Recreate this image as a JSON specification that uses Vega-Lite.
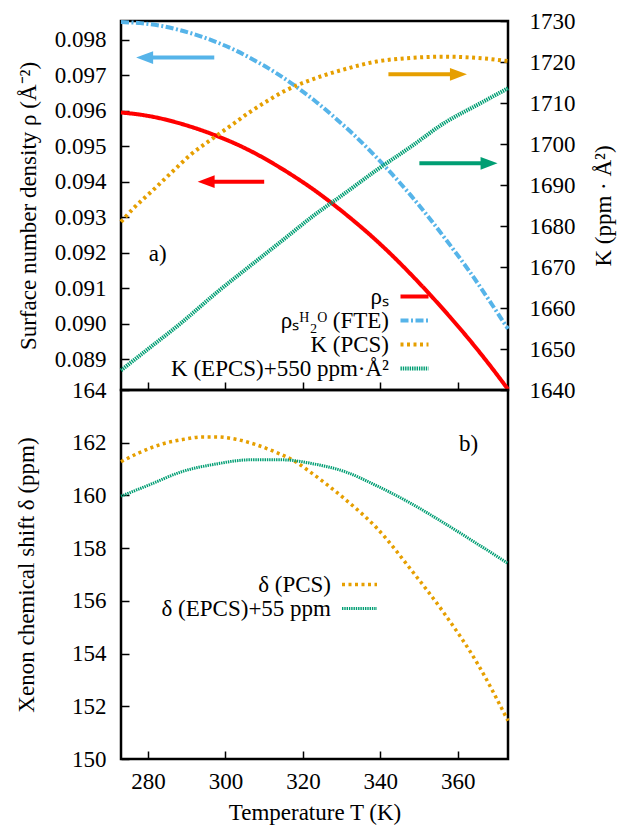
{
  "$schema": "https://vega.github.io/schema/vega-lite/v6.json",
  "padding": {"left": 13, "top": 8, "right": 0, "bottom": 0},
  "background": "white",
  "config": {
    "font": "Liberation Serif",
    "view": {"stroke": "black", "strokeWidth": 2.5},
    "style": {
      "guide-label": {"font": "Liberation Serif", "fontSize": 23, "fill": "black"},
      "guide-title": {"font": "Liberation Serif", "fontSize": 23, "fill": "black", "fontWeight": "normal"}
    },
    "text": {"font": "Liberation Serif"},
    "axis": {
      "grid": false, "domain": false, "tickColor": "black", "tickWidth": 1.5, "tickSize": -8,
      "labelFont": "Liberation Serif", "labelFontSize": 23, "labelColor": "black",
      "titleFont": "Liberation Serif", "titleFontSize": 23, "titleFontWeight": "normal", "titleColor": "black"
    },
    "legend": {
      "orient": "none", "labelFont": "Liberation Serif", "labelFontSize": 23,
      "labelColor": "black", "labelAlign": "right", "labelLimit": 400, "rowPadding": 0
    }
  },
  "datasets": {
    "tl": [
      {"s": "ρₛ", "T": 273, "v": 0.09595}, {"s": "ρₛ", "T": 278, "v": 0.09589}, {"s": "ρₛ", "T": 283, "v": 0.09579},
      {"s": "ρₛ", "T": 288, "v": 0.09565}, {"s": "ρₛ", "T": 293, "v": 0.09548}, {"s": "ρₛ", "T": 298, "v": 0.09528},
      {"s": "ρₛ", "T": 303, "v": 0.09505}, {"s": "ρₛ", "T": 308, "v": 0.09478}, {"s": "ρₛ", "T": 313, "v": 0.09447},
      {"s": "ρₛ", "T": 318, "v": 0.09413}, {"s": "ρₛ", "T": 323, "v": 0.09376}, {"s": "ρₛ", "T": 328, "v": 0.09335},
      {"s": "ρₛ", "T": 333, "v": 0.09291}, {"s": "ρₛ", "T": 338, "v": 0.09244}, {"s": "ρₛ", "T": 343, "v": 0.09193},
      {"s": "ρₛ", "T": 348, "v": 0.09138}, {"s": "ρₛ", "T": 353, "v": 0.09080}, {"s": "ρₛ", "T": 358, "v": 0.09019},
      {"s": "ρₛ", "T": 363, "v": 0.08955}, {"s": "ρₛ", "T": 368, "v": 0.08887}, {"s": "ρₛ", "T": 373, "v": 0.08815},
      {"s": "ρₛᴴ₂ᴼ (FTE)", "T": 273, "v": 0.09850}, {"s": "ρₛᴴ₂ᴼ (FTE)", "T": 278, "v": 0.09847}, {"s": "ρₛᴴ₂ᴼ (FTE)", "T": 283, "v": 0.09840},
      {"s": "ρₛᴴ₂ᴼ (FTE)", "T": 288, "v": 0.09828}, {"s": "ρₛᴴ₂ᴼ (FTE)", "T": 293, "v": 0.09812}, {"s": "ρₛᴴ₂ᴼ (FTE)", "T": 298, "v": 0.09792},
      {"s": "ρₛᴴ₂ᴼ (FTE)", "T": 303, "v": 0.09768}, {"s": "ρₛᴴ₂ᴼ (FTE)", "T": 308, "v": 0.09739}, {"s": "ρₛᴴ₂ᴼ (FTE)", "T": 313, "v": 0.09707},
      {"s": "ρₛᴴ₂ᴼ (FTE)", "T": 318, "v": 0.09670}, {"s": "ρₛᴴ₂ᴼ (FTE)", "T": 323, "v": 0.09629}, {"s": "ρₛᴴ₂ᴼ (FTE)", "T": 328, "v": 0.09583},
      {"s": "ρₛᴴ₂ᴼ (FTE)", "T": 333, "v": 0.09534}, {"s": "ρₛᴴ₂ᴼ (FTE)", "T": 338, "v": 0.09480}, {"s": "ρₛᴴ₂ᴼ (FTE)", "T": 343, "v": 0.09422},
      {"s": "ρₛᴴ₂ᴼ (FTE)", "T": 348, "v": 0.09360}, {"s": "ρₛᴴ₂ᴼ (FTE)", "T": 353, "v": 0.09293}, {"s": "ρₛᴴ₂ᴼ (FTE)", "T": 358, "v": 0.09222},
      {"s": "ρₛᴴ₂ᴼ (FTE)", "T": 363, "v": 0.09148}, {"s": "ρₛᴴ₂ᴼ (FTE)", "T": 368, "v": 0.09068}, {"s": "ρₛᴴ₂ᴼ (FTE)", "T": 373, "v": 0.08985}
    ],
    "tr": [
      {"s": "K (PCS)", "T": 273, "v": 1681.0}, {"s": "K (PCS)", "T": 276, "v": 1684.1}, {"s": "K (PCS)", "T": 281, "v": 1688.5},
      {"s": "K (PCS)", "T": 286, "v": 1693.0}, {"s": "K (PCS)", "T": 291, "v": 1697.4}, {"s": "K (PCS)", "T": 296.6, "v": 1701.3},
      {"s": "K (PCS)", "T": 302, "v": 1704.9}, {"s": "K (PCS)", "T": 306, "v": 1707.6}, {"s": "K (PCS)", "T": 311, "v": 1710.6},
      {"s": "K (PCS)", "T": 315, "v": 1712.8}, {"s": "K (PCS)", "T": 320, "v": 1714.9}, {"s": "K (PCS)", "T": 325, "v": 1716.6},
      {"s": "K (PCS)", "T": 331, "v": 1718.3}, {"s": "K (PCS)", "T": 339, "v": 1720.1}, {"s": "K (PCS)", "T": 348, "v": 1721.0},
      {"s": "K (PCS)", "T": 356, "v": 1721.3}, {"s": "K (PCS)", "T": 365, "v": 1721.0}, {"s": "K (PCS)", "T": 373, "v": 1720.2},
      {"s": "K (EPCS)+550 ppm·Å²", "T": 273, "v": 1644.8}, {"s": "K (EPCS)+550 ppm·Å²", "T": 280, "v": 1650.0},
      {"s": "K (EPCS)+550 ppm·Å²", "T": 289, "v": 1656.7}, {"s": "K (EPCS)+550 ppm·Å²", "T": 297.5, "v": 1663.6},
      {"s": "K (EPCS)+550 ppm·Å²", "T": 306, "v": 1670.0}, {"s": "K (EPCS)+550 ppm·Å²", "T": 315, "v": 1676.7},
      {"s": "K (EPCS)+550 ppm·Å²", "T": 323, "v": 1682.7}, {"s": "K (EPCS)+550 ppm·Å²", "T": 330, "v": 1687.4},
      {"s": "K (EPCS)+550 ppm·Å²", "T": 339, "v": 1693.6}, {"s": "K (EPCS)+550 ppm·Å²", "T": 348, "v": 1699.4},
      {"s": "K (EPCS)+550 ppm·Å²", "T": 356.5, "v": 1705.1}, {"s": "K (EPCS)+550 ppm·Å²", "T": 365, "v": 1709.5},
      {"s": "K (EPCS)+550 ppm·Å²", "T": 373, "v": 1713.6}
    ],
    "arrL": [
      {"s": "ρₛᴴ₂ᴼ (FTE)", "x1": 297.1, "x2": 279.1, "hx": 279.1, "y": 0.0975, "dir": "left"},
      {"s": "ρₛ", "x1": 310.0, "x2": 295.0, "hx": 295.0, "y": 0.0940, "dir": "left"}
    ],
    "arrR": [
      {"s": "K (PCS)", "x1": 342.1, "x2": 360.2, "hx": 360.2, "y": 1717.0, "dir": "right"},
      {"s": "K (EPCS)+550 ppm·Å²", "x1": 350.1, "x2": 368.1, "hx": 368.1, "y": 1695.3, "dir": "right"}
    ],
    "lblA": [{"T": 282.5, "v": 0.09196, "text": "a)"}],
    "lblB": [{"T": 362.8, "v": 161.94, "text": "b)"}],
    "bt": [
      {"s": "δ (PCS)", "T": 273, "v": 161.28}, {"s": "δ (PCS)", "T": 277.7, "v": 161.62}, {"s": "δ (PCS)", "T": 283.8, "v": 161.96},
      {"s": "δ (PCS)", "T": 288.9, "v": 162.12}, {"s": "δ (PCS)", "T": 294, "v": 162.22}, {"s": "δ (PCS)", "T": 297.5, "v": 162.22},
      {"s": "δ (PCS)", "T": 302.7, "v": 162.13}, {"s": "δ (PCS)", "T": 307.8, "v": 161.93}, {"s": "δ (PCS)", "T": 313, "v": 161.64},
      {"s": "δ (PCS)", "T": 318.2, "v": 161.27}, {"s": "δ (PCS)", "T": 321.7, "v": 160.91}, {"s": "δ (PCS)", "T": 330.7, "v": 159.88},
      {"s": "δ (PCS)", "T": 339.3, "v": 158.73}, {"s": "δ (PCS)", "T": 347.9, "v": 157.19}, {"s": "δ (PCS)", "T": 356.5, "v": 155.53},
      {"s": "δ (PCS)", "T": 365.2, "v": 153.60}, {"s": "δ (PCS)", "T": 373, "v": 151.45},
      {"s": "δ (EPCS)+55 ppm", "T": 273, "v": 159.97}, {"s": "δ (EPCS)+55 ppm", "T": 280.3, "v": 160.40},
      {"s": "δ (EPCS)+55 ppm", "T": 288.9, "v": 160.91}, {"s": "δ (EPCS)+55 ppm", "T": 297.5, "v": 161.19},
      {"s": "δ (EPCS)+55 ppm", "T": 306.2, "v": 161.35}, {"s": "δ (EPCS)+55 ppm", "T": 314.8, "v": 161.35},
      {"s": "δ (EPCS)+55 ppm", "T": 323, "v": 161.19}, {"s": "δ (EPCS)+55 ppm", "T": 330.7, "v": 160.91},
      {"s": "δ (EPCS)+55 ppm", "T": 339.3, "v": 160.35}, {"s": "δ (EPCS)+55 ppm", "T": 347.9, "v": 159.70},
      {"s": "δ (EPCS)+55 ppm", "T": 356.5, "v": 158.95}, {"s": "δ (EPCS)+55 ppm", "T": 365.2, "v": 158.15},
      {"s": "δ (EPCS)+55 ppm", "T": 373, "v": 157.42}
    ]
  },
  "spacing": 0,
  "bounds": "flush",
  "vconcat": [
    {
      "width": 387,
      "height": 369,
      "layer": [
        {
          "layer": [
            {
              "data": {"name": "tl"},
              "mark": {"type": "line", "interpolate": "monotone"},
              "encoding": {
                "x": {"field": "T", "type": "quantitative", "scale": {"domain": [273, 373], "nice": false, "zero": false},
                      "axis": {"labels": false, "title": null, "values": [280, 300, 320, 340, 360]}},
                "y": {"field": "v", "type": "quantitative", "scale": {"domain": [0.08813, 0.09853], "nice": false, "zero": false},
                      "axis": {"orient": "left", "title": "Surface number density ρ (Å⁻²)", "format": ".3f",
                               "values": [0.089, 0.090, 0.091, 0.092, 0.093, 0.094, 0.095, 0.096, 0.097, 0.098],
                               "labelFont": "Liberation Serif", "titleFont": "Liberation Serif",
                               "labelPadding": 23, "titleX": -93, "titleBaseline": "middle"}},
                "color": {"field": "s", "type": "nominal",
                          "scale": {"domain": ["ρₛ", "ρₛᴴ₂ᴼ (FTE)", "K (PCS)", "K (EPCS)+550 ppm·Å²"], "range": ["#ff0000", "#56b4e9", "#e69f00", "#009e73"]},
                          "legend": {"title": null, "legendX": 282, "legendY": 264, "labelOffset": -37, "symbolSize": 196, "symbolType": "M-2,0H2", "labelFont": "Liberation Serif"}},
                "strokeDash": {"field": "s", "type": "nominal",
                               "scale": {"domain": ["ρₛ", "ρₛᴴ₂ᴼ (FTE)", "K (PCS)", "K (EPCS)+550 ppm·Å²"], "range": [[1, 0], [8, 2.5, 2, 2.5], [3, 3.5], [1.4, 0.9]]},
                               "legend": {"title": null, "legendX": 282, "legendY": 264, "labelOffset": -37, "symbolSize": 196, "symbolType": "M-2,0H2", "labelFont": "Liberation Serif"}},
                "strokeWidth": {"field": "s", "type": "nominal",
                                "scale": {"domain": ["ρₛ", "ρₛᴴ₂ᴼ (FTE)", "K (PCS)", "K (EPCS)+550 ppm·Å²"], "range": [4, 4, 3.5, 3]},
                                "legend": {"title": null, "legendX": 282, "legendY": 264, "labelOffset": -37, "symbolSize": 196, "symbolType": "M-2,0H2", "labelFont": "Liberation Serif"}}
              }
            },
            {
              "data": {"name": "arrL"},
              "mark": {"type": "rule", "strokeWidth": 4},
              "encoding": {
                "x": {"field": "x1", "type": "quantitative"},
                "x2": {"field": "x2"},
                "y": {"field": "y", "type": "quantitative"},
                "color": {"field": "s", "type": "nominal"}
              }
            },
            {
              "data": {"name": "arrL"},
              "mark": {"type": "point", "filled": true, "size": 289, "opacity": 1},
              "encoding": {
                "x": {"field": "hx", "type": "quantitative"},
                "y": {"field": "y", "type": "quantitative"},
                "shape": {"field": "dir", "type": "nominal", "scale": {"domain": ["left", "right"], "range": ["M1,-0.75L-1,0L1,0.75Z", "M-1,-0.75L1,0L-1,0.75Z"]}, "legend": null},
                "color": {"field": "s", "type": "nominal"}
              }
            },
            {
              "data": {"name": "lblA"},
              "mark": {"type": "text", "fontSize": 23, "font": "Liberation Serif", "color": "black", "align": "center", "baseline": "middle"},
              "encoding": {
                "x": {"field": "T", "type": "quantitative"},
                "y": {"field": "v", "type": "quantitative"},
                "text": {"field": "text"}
              }
            }
          ]
        },
        {
          "layer": [
            {
              "data": {"name": "tr"},
              "mark": {"type": "line", "interpolate": "monotone"},
              "encoding": {
                "x": {"field": "T", "type": "quantitative"},
                "y": {"field": "v", "type": "quantitative", "scale": {"domain": [1640, 1730], "nice": false, "zero": false},
                      "axis": {"orient": "right", "title": "K (ppm · Å²)", "format": "d",
                               "values": [1640, 1650, 1660, 1670, 1680, 1690, 1700, 1710, 1720, 1730],
                               "labelFont": "Liberation Serif", "titleFont": "Liberation Serif",
                               "labelPadding": 29, "titleAngle": 270, "titleX": 95, "titleBaseline": "middle"}},
                "color": {"field": "s", "type": "nominal"},
                "strokeDash": {"field": "s", "type": "nominal"},
                "strokeWidth": {"field": "s", "type": "nominal"}
              }
            },
            {
              "data": {"name": "arrR"},
              "mark": {"type": "rule", "strokeWidth": 4},
              "encoding": {
                "x": {"field": "x1", "type": "quantitative"},
                "x2": {"field": "x2"},
                "y": {"field": "y", "type": "quantitative"},
                "color": {"field": "s", "type": "nominal"}
              }
            },
            {
              "data": {"name": "arrR"},
              "mark": {"type": "point", "filled": true, "size": 289, "opacity": 1},
              "encoding": {
                "x": {"field": "hx", "type": "quantitative"},
                "y": {"field": "y", "type": "quantitative"},
                "shape": {"field": "dir", "type": "nominal", "scale": {"domain": ["left", "right"], "range": ["M1,-0.75L-1,0L1,0.75Z", "M-1,-0.75L1,0L-1,0.75Z"]}, "legend": null},
                "color": {"field": "s", "type": "nominal"}
              }
            }
          ]
        }
      ],
      "resolve": {"scale": {"y": "independent"}, "axis": {"y": "independent"}}
    },
    {
      "width": 387,
      "height": 369,
      "layer": [
        {
          "data": {"name": "bt"},
          "mark": {"type": "line", "interpolate": "monotone"},
          "encoding": {
            "x": {"field": "T", "type": "quantitative", "scale": {"domain": [273, 373], "nice": false, "zero": false},
                  "axis": {"title": "Temperature T (K)", "values": [280, 300, 320, 340, 360], "labelPadding": 19, "titlePadding": 8,
                           "labelFont": "Liberation Serif", "titleFont": "Liberation Serif"}},
            "y": {"field": "v", "type": "quantitative", "scale": {"domain": [150, 164], "nice": false, "zero": false},
                  "axis": {"title": "Xenon chemical shift δ (ppm)", "values": [150, 152, 154, 156, 158, 160, 162, 164],
                           "labelFont": "Liberation Serif", "titleFont": "Liberation Serif",
                           "labelPadding": 23, "titleX": -95, "titleBaseline": "middle"}},
            "color": {"field": "s", "type": "nominal",
                      "scale": {"domain": ["δ (PCS)", "δ (EPCS)+55 ppm"], "range": ["#e69f00", "#009e73"]},
                      "legend": {"title": null, "legendX": 227, "legendY": 183, "labelOffset": -40, "symbolSize": 196, "symbolType": "M-2.5,0H2.5", "labelFont": "Liberation Serif"}},
            "strokeDash": {"field": "s", "type": "nominal",
                           "scale": {"domain": ["δ (PCS)", "δ (EPCS)+55 ppm"], "range": [[3, 3.5], [1.4, 0.9]]},
                           "legend": {"title": null, "legendX": 227, "legendY": 183, "labelOffset": -40, "symbolSize": 196, "symbolType": "M-2.5,0H2.5", "labelFont": "Liberation Serif"}},
            "strokeWidth": {"field": "s", "type": "nominal",
                            "scale": {"domain": ["δ (PCS)", "δ (EPCS)+55 ppm"], "range": [3.5, 3]},
                            "legend": {"title": null, "legendX": 227, "legendY": 183, "labelOffset": -40, "symbolSize": 196, "symbolType": "M-2.5,0H2.5", "labelFont": "Liberation Serif"}}
          }
        },
        {
          "data": {"name": "lblB"},
          "mark": {"type": "text", "fontSize": 23, "font": "Liberation Serif", "color": "black", "align": "center", "baseline": "middle"},
          "encoding": {
            "x": {"field": "T", "type": "quantitative"},
            "y": {"field": "v", "type": "quantitative"},
            "text": {"field": "text"}
          }
        }
      ]
    }
  ],
  "resolve": {
    "scale": {"color": "independent", "strokeDash": "independent", "strokeWidth": "independent", "x": "independent", "y": "independent"},
    "legend": {"color": "independent", "strokeDash": "independent", "strokeWidth": "independent"}
  }
}
